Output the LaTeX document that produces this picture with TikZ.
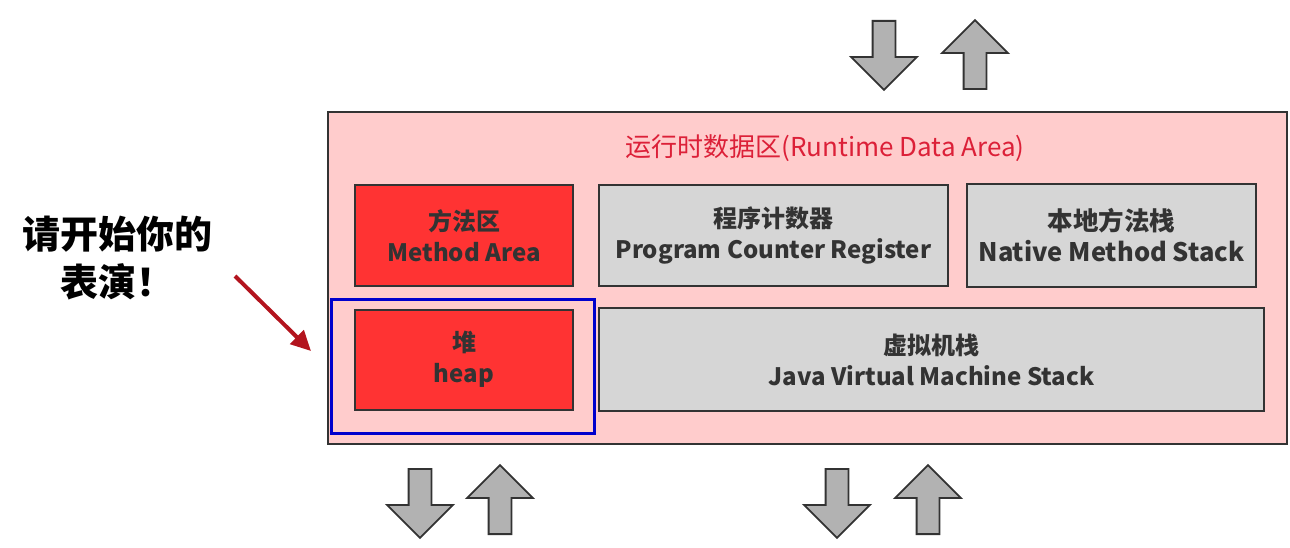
\documentclass[tikz,border=0pt]{standalone}
\usepackage{fontspec}
\usepackage{xcolor}
\usepackage{tikz}
\usetikzlibrary{positioning,shapes.arrows,arrows.meta}
\newfontfamily\cjk{Noto Sans CJK SC}
\definecolor{areapink}{HTML}{FFCCCC}
\definecolor{heapred}{HTML}{FF3333}
\definecolor{stackgray}{HTML}{D6D6D6}
\definecolor{edgegray}{HTML}{333333}
\definecolor{titlered}{HTML}{DC2038}
\definecolor{pointred}{HTML}{B3141E}
\definecolor{selblue}{HTML}{0000CC}
\tikzset{
  region/.style={draw=edgegray,line width=2pt,align=center,text=edgegray,
    font=\cjk\bfseries\fontsize{24}{31}\selectfont,inner sep=0pt},
  shared/.style={region,fill=heapred,text=black!80},
  private/.style={region,fill=stackgray},
  flow/.style={single arrow,draw=edgegray,fill=black!30,line width=1.8pt,
    minimum height=69pt,single arrow head extend=21.5pt,inner sep=10.5pt,anchor=tail},
}
\begin{document}
\begin{tikzpicture}[x=1pt,y=-1pt,node distance=24pt]
\useasboundingbox (0,0) rectangle (1290,548);
% the runtime data area
\node[draw=edgegray,line width=2pt,fill=areapink,minimum width=959pt,minimum height=332pt,
  inner sep=0pt] (rda) at (807.5,278) {};
\node[text=titlered,font=\cjk\fontsize{26}{30}\selectfont] (title) at (825,148)
  {运行时数据区(Runtime Data Area)};
% first row
\node[shared,minimum width=218pt,minimum height=100pt] (method) at (464,235.5) {方法区\\Method Area};
\node[private,minimum width=349pt,minimum height=100pt] (pcr) [right = of method] {程序计数器\\Program Counter Register};
\node[private,minimum width=289pt,minimum height=102pt,font=\cjk\bfseries\fontsize{25.5}{31}\selectfont] (native) [right = 17pt of pcr] {本地方法栈\\Native Method Stack};
% second row
\node[shared,minimum width=218pt,minimum height=100pt] (heap) [below = 22pt of method] {堆\\heap};
\node[private,minimum width=665pt,minimum height=103pt] (jvms) [right = of heap] {虚拟机栈\\Java Virtual Machine Stack};
\node[draw=selblue,line width=3pt,minimum width=263pt,minimum height=134pt,inner sep=0pt] (sel) at (462.5,366) {};
% in and out
\node[flow,rotate=-90] (topin) at (884,20) {};
\node[flow,rotate=90] (topout) at (975,90) {};
\node[flow,rotate=-90] (heapin) at (420,468) {};
\node[flow,rotate=90] (heapout) at (500,535) {};
\node[flow,rotate=-90] (stackin) at (837,468) {};
\node[flow,rotate=90] (stackout) at (928,535) {};
% the remark on the left
\node[align=center,font=\cjk\bfseries\fontsize{38}{48}\selectfont] (remark) at (118,258) {请开始你的\\表演！};
\coordinate (pstart) at (235,276);
\coordinate (pend) at (311,351);
\draw[pointred,line width=4pt,-{Triangle[length=20pt,width=19pt]}] (pstart) -- (pend);
\end{tikzpicture}
\end{document}
